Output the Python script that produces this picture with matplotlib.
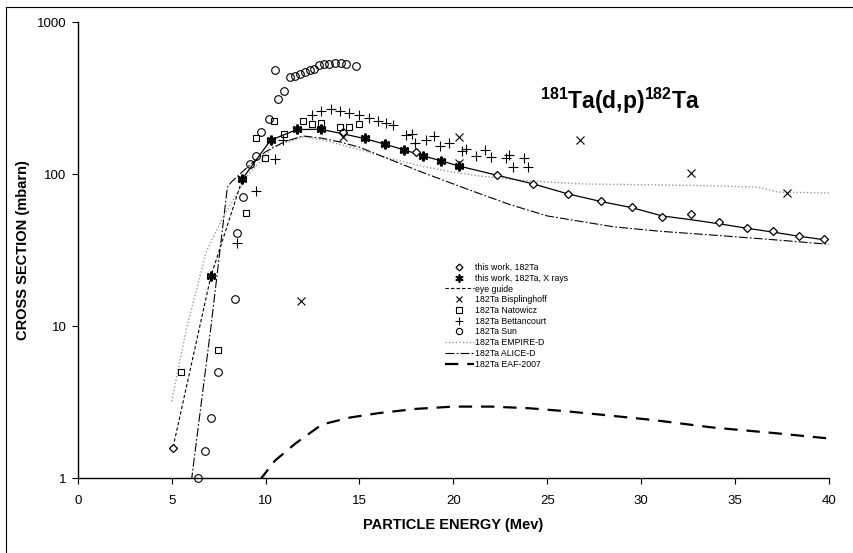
import numpy as np
import matplotlib.pyplot as plt
from matplotlib.lines import Line2D
from matplotlib.ticker import FixedLocator, NullLocator, FixedFormatter

plt.rcParams['font.family'] = ['Liberation Sans', 'DejaVu Sans']
plt.rcParams['mathtext.fontset'] = 'custom'
plt.rcParams['mathtext.bf'] = 'Liberation Sans:bold'
plt.rcParams['mathtext.rm'] = 'Liberation Sans'

# this work, 182Ta (gamma)
work_e = [5.08, 7.08, 8.77, 10.27, 11.67, 12.93, 14.11, 15.27, 16.37, 17.39, 18.01, 18.37,
          19.36, 20.28, 22.35, 24.26, 26.1, 27.84, 29.52, 31.12, 32.68, 34.17, 35.62,
          37.01, 38.38, 39.71]
work_xs = [1.58, 21.3, 93, 167, 198, 198, 188, 172, 157, 144, 139, 131,
           122, 113, 98, 86, 73.8, 66, 60.6, 52.1, 54.3, 48.3, 43.9,
           42.0, 38.9, 37.4]

# this work, X rays
xray_e = [7.08, 8.77, 10.27, 11.67, 12.93, 15.27, 16.37, 17.39, 18.37, 19.36, 20.28]
xray_xs = [21.3, 93, 167, 198, 198, 172, 157, 144, 131, 122, 113]

# eye guide
eg_e = [5.08, 7.08, 8.77, 10.27, 11.67, 12.93, 14.11, 15.27, 16.37, 17.39, 18.37, 19.36,
        20.28, 22.35, 24.26, 26.1, 27.84, 29.52, 31.12, 32.68, 34.17, 35.62, 37.01,
        38.38, 39.71]
eg_xs = [1.6, 21, 93, 167, 196, 197, 184, 171, 157, 144, 132, 122,
         113, 98, 86, 74, 66, 60, 53, 50, 47, 44, 41.5, 39, 37]

# Bisplinghoff
bis_e = [11.88, 14.11, 20.28, 20.28, 26.76, 32.64, 37.74]
bis_xs = [14.7, 176, 176, 118, 167, 102, 75.3]

# Natowicz
nat_e = [5.49, 7.47, 8.98, 9.47, 9.97, 10.47, 10.98, 11.97, 12.47, 12.98, 13.97, 14.47, 14.96]
nat_xs = [5.0, 7.0, 55.6, 173, 127, 224, 184, 224, 214, 216, 204, 204, 214]

# Bettancourt
bet_e = [8.48, 9.51, 10.5, 10.93, 12.49, 12.98, 13.48, 13.97, 14.47, 14.96, 15.5, 15.97,
         16.42, 16.81, 17.48, 17.8, 17.98, 18.54, 18.97, 19.29, 19.78, 20.44, 20.7,
         21.2, 21.66, 22.03, 22.8, 22.97, 23.18, 23.77, 23.98]
bet_xs = [35.2, 76.9, 126, 167, 245, 261, 268, 261, 253, 243, 233, 224,
          216, 209, 180, 184, 159, 167, 178, 153, 159, 142, 147,
          131, 144, 129, 127, 133, 112, 127, 112]

# Sun
sun_e = [6.39, 6.76, 7.08, 7.49, 8.37, 8.48, 8.78, 9.16, 9.47, 9.78, 10.18, 10.5, 10.66,
         10.98, 11.28, 11.56, 11.82, 12.09, 12.35, 12.6, 12.85, 13.1, 13.4, 13.7, 14.0,
         14.3, 14.8]
sun_xs = [1.0, 1.5, 2.5, 5.0, 15.1, 40.7, 71, 116, 132, 189, 229, 480, 311,
          352, 435, 443, 455, 470, 480, 490, 520, 530, 530, 535, 535,
          530, 510]

# EMPIRE-D
emp_e = [5.0, 5.8, 6.85, 7.74, 9.0, 10.4, 12.0, 13.0, 14.8, 16.6, 18.4, 20.0, 21.4, 24.0,
         27, 30, 33, 36.2, 37.3, 40]
emp_xs = [3.2, 9.7, 31, 52, 96, 151, 175, 168, 147, 127, 112, 103, 97, 90,
          86, 85, 84, 82, 76, 75]

# ALICE-D
ali_e = [6.05, 7.1, 7.97, 8.2, 9.0, 10.0, 11.0, 12.0, 13.0, 14.0, 15.0, 16.6, 18.4, 20.8,
         23.0, 25.0, 28.5, 31.0, 34.0, 37.0, 40.0]
ali_xs = [0.95, 10, 82, 89, 110, 140, 163, 178, 172, 162, 150, 125, 102, 79,
          63, 53, 45, 42, 39.5, 37, 34.5]

# EAF-2007
eaf_e = [9.7, 10.5, 11.6, 13, 14.5, 16, 18, 20, 22, 24, 26, 28, 30.6, 33.8, 37, 40]
eaf_xs = [0.97, 1.3, 1.69, 2.25, 2.5, 2.67, 2.85, 2.95, 2.95, 2.88, 2.75, 2.6, 2.41,
          2.15, 1.98, 1.82]

fig = plt.figure(figsize=(8.54, 5.53), dpi=100)
ax = fig.add_axes([0.091, 0.1356, 0.8797, 0.8246])

# lines
emp_style = dict(color='#9a9a9a', lw=1.0, linestyle=(0, (1, 1.5)))
ali_style = dict(color='black', lw=0.8, linestyle=(0, (8, 2, 1.5, 2)))
eaf_style = dict(color='black', lw=1.6, linestyle=(0, (6, 4)))
eg_style = dict(color='black', lw=0.8, linestyle=(0, (3, 2)))

ax.plot(emp_e, emp_xs, **emp_style)
ax.plot(ali_e, ali_xs, **ali_style)
ax.plot(eaf_e, eaf_xs, **eaf_style)
ax.plot(eg_e[:3], eg_xs[:3], **eg_style)
ax.plot(eg_e[2:], eg_xs[2:], color='black', lw=0.9)

# markers
mk = dict(linestyle='none', clip_on=False)
ax.plot(work_e, work_xs, marker='D', ms=4, mfc='white', mec='black', mew=0.9, **mk)
ax.plot(xray_e, xray_xs, marker=(6, 2, 0), ms=7, color='black', mew=1.6, **mk)
ax.plot(bis_e, bis_xs, marker='x', ms=6, color='black', mew=0.8, **mk)
ax.plot(nat_e, nat_xs, marker='s', ms=5, mfc='none', mec='black', mew=0.8, **mk)
ax.plot(bet_e, bet_xs, marker='+', ms=6.5, color='black', mew=0.8, **mk)
ax.plot(sun_e, sun_xs, marker='o', ms=5.5, mfc='none', mec='black', mew=0.8, **mk)

ax.set_yscale('log')
ax.set_xlim(0, 40)
ax.set_ylim(1, 1000)
ax.xaxis.set_major_locator(FixedLocator([0, 5, 10, 15, 20, 25, 30, 35, 40]))
ax.yaxis.set_major_locator(FixedLocator([1, 10, 100, 1000]))
ax.yaxis.set_major_formatter(FixedFormatter(['1', '10', '100', '1000']))
ax.yaxis.set_minor_locator(NullLocator())
ax.tick_params(direction='out', length=4, width=0.8, labelsize=9.5)
ax.tick_params(axis='x', pad=8)
ax.tick_params(axis='y', pad=4)
ax.spines['top'].set_visible(False)
ax.spines['right'].set_visible(False)
for s in ('left', 'bottom'):
    ax.spines[s].set_linewidth(1.0)

ax.set_xlabel('PARTICLE ENERGY (Mev)', fontsize=10.5, fontweight='bold', labelpad=8)
ax.set_ylabel('CROSS SECTION (mbarn)', fontsize=10.5, fontweight='bold', labelpad=5)

ax.text(0.722, 0.827, r'$^{\mathbf{181}}$Ta(d,p)$^{\mathbf{182}}$Ta', transform=ax.transAxes,
        ha='center', va='center', fontsize=16.5, fontweight='bold')

handles = [
    Line2D([], [], linestyle='none', marker='D', ms=3.5, mfc='white', mec='black', mew=0.9),
    Line2D([], [], linestyle='none', marker=(6, 2, 0), ms=6, color='black', mew=1.2),
    Line2D([], [], **eg_style),
    Line2D([], [], linestyle='none', marker='x', ms=5, color='black', mew=0.8),
    Line2D([], [], linestyle='none', marker='s', ms=4.5, mfc='none', mec='black', mew=0.8),
    Line2D([], [], linestyle='none', marker='+', ms=5.5, color='black', mew=0.8),
    Line2D([], [], linestyle='none', marker='o', ms=4.5, mfc='none', mec='black', mew=0.8),
    Line2D([], [], **emp_style),
    Line2D([], [], **ali_style),
    Line2D([], [], **eaf_style),
]
labels = ['this work, 182Ta', 'this work, 182Ta, X rays', 'eye guide', '182Ta Bisplinghoff',
          '182Ta Natowicz', '182Ta Bettancourt', '182Ta Sun', '182Ta EMPIRE-D',
          '182Ta ALICE-D', '182Ta EAF-2007']
fig.legend(handles, labels, loc='upper left', bbox_to_anchor=(445 / 854, 1 - 263 / 553),
           frameon=False, fontsize=6.3, handlelength=3.3, handletextpad=0.15,
           labelspacing=0.2, borderpad=0, borderaxespad=0)

# outer frame (top and left only visible)
fig.add_artist(Line2D([6 / 854, 6 / 854], [0, 1 - 7 / 553], color='black', lw=0.8))
fig.add_artist(Line2D([6 / 854, 1], [1 - 7 / 553, 1 - 7 / 553], color='black', lw=0.8))

fig.savefig('out.png', dpi=100)
